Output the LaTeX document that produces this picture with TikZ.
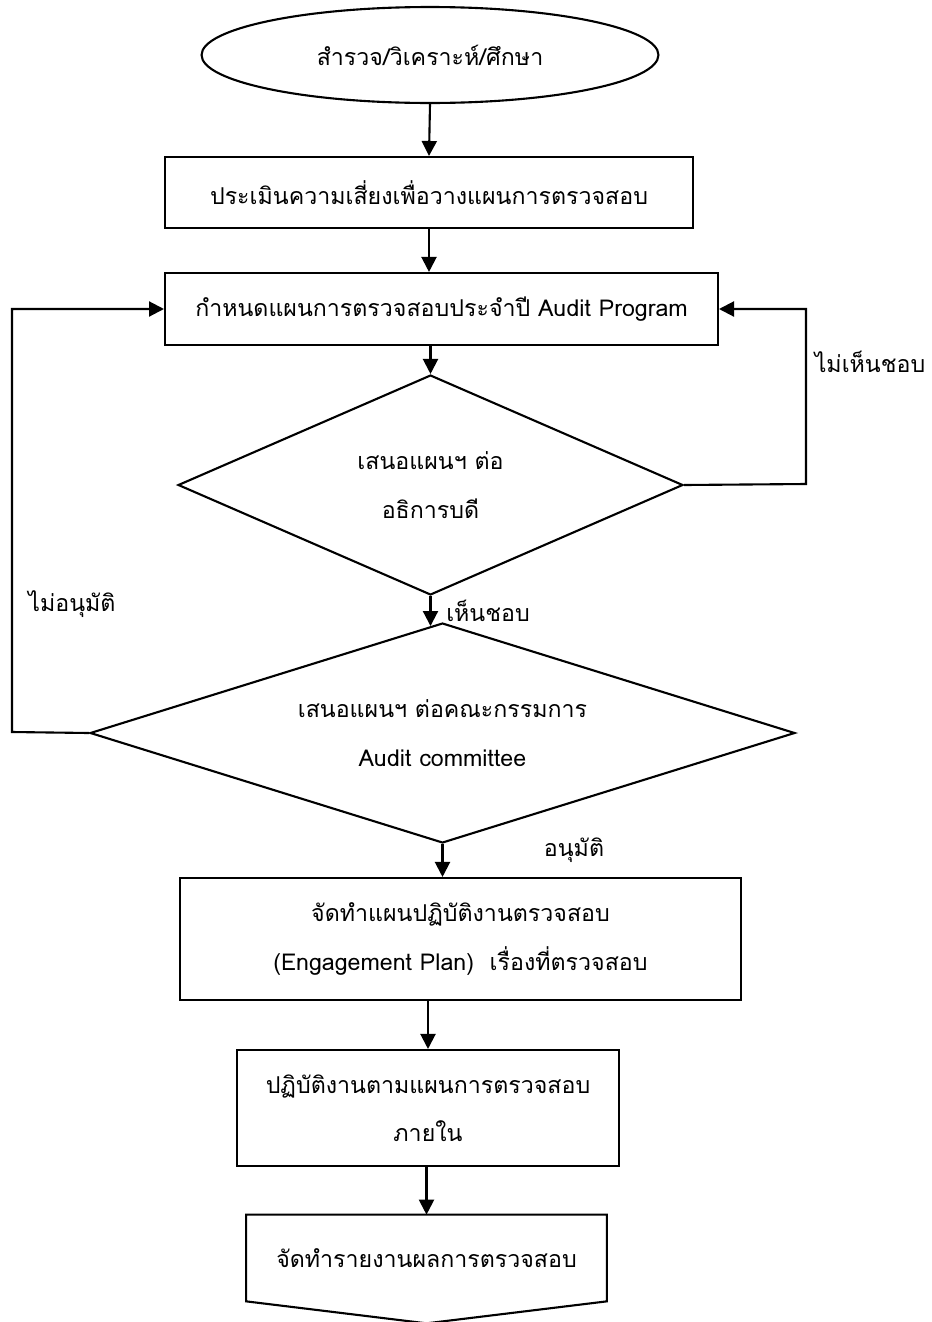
\documentclass[tikz,border=0pt]{standalone}
\usepackage{fontspec}
\setmainfont[Script=Thai]{Loma}
\usepackage{tikz}
\usetikzlibrary{shapes.geometric, arrows.meta, positioning, calc}

\begin{document}
\begin{tikzpicture}[
        x=0.02cm, y=-0.02cm,
        txt/.style={font=\fontsize{13.2}{27.5}\selectfont},
        box/.style={txt, draw, line width=1.2pt, align=center, inner sep=0pt},
        term/.style={box, ellipse, minimum width=9.14cm, minimum height=1.92cm},
        dec/.style={box, diamond, minimum height=4.4cm},
        rel/.style={-{Triangle[length=3mm, width=3mm]}, line width=1.2pt},
        lbl/.style={txt, inner sep=0pt}
    ]
        \useasboundingbox (0,0) rectangle (932,1322);

        \node[term] (start) at (430,55) {สำรวจ/วิเคราะห์/ศึกษา};
        \node[box, minimum width=10.56cm, minimum height=1.42cm] (assess) at (429,192.5) {ประเมินความเสี่ยงเพื่อวางแผนการตรวจสอบ};
        \node[box, minimum width=11.06cm, minimum height=1.44cm] (plan) at (441.5,309) {กำหนดแผนการตรวจสอบประจำปี Audit Program};
        \node[dec, aspect=2.3, minimum width=10.1cm] (dir) at (430.5,485) {เสนอแผนฯ ต่อ\\อธิการบดี};
        \node[dec, aspect=3.2, minimum width=14.1cm] (board) at (442.5,733) {เสนอแผนฯ ต่อคณะกรรมการ\\Audit committee};
        \node[box, minimum width=11.22cm, minimum height=2.44cm] (engage) at (460.5,939) {จัดทำแผนปฏิบัติงานตรวจสอบ\\(Engagement Plan)~~เรื่องที่ตรวจสอบ};
        \node[box, minimum width=7.64cm, minimum height=2.32cm] (perform) at (428,1108) {ปฏิบัติงานตามแผนการตรวจสอบ\\ภายใน};
        \node[txt, minimum width=7.2cm, minimum height=1.72cm, inner sep=0pt] (report) at (426.5,1258) {จัดทำรายงานผลการตรวจสอบ\\[0.9cm]};
        \draw[line width=1.2pt] (report.south west) -- (report.north west) -- (report.north east)
            -- (report.south east) -- ($(report.south)+(0,22)$) -- cycle;

        \node[lbl] (yes1) at (488,611) {เห็นชอบ};
        \node[lbl] (no1) at (870,362) {ไม่เห็นชอบ};
        \node[lbl] (no2) at (72,604) {ไม่อนุมัติ};
        \node[lbl] (yes2) at (574,850) {อนุมัติ};

        \coordinate (rturn) at (806,484);
        \coordinate (lturn) at (12,732);

        \draw[rel] (start.south) -- (assess.north);
        \draw[rel] (assess.south) -- (assess.south |- plan.north);
        \draw[rel] (plan.south -| dir.north) -- (dir.north);
        \draw[rel] (dir.south) -- ++(0,30);
        \draw[rel] (dir.east) -- (rturn) |- (plan.east);
        \draw[rel] (board.west) -- (lturn) |- (plan.west);
        \draw[rel] (board.south) -- (board.south |- engage.north);
        \draw[rel] (engage.south -| perform.north) -- (perform.north);
        \draw[rel] (perform.south -| report.north) -- (report.north);
    \end{tikzpicture}
\end{document}
